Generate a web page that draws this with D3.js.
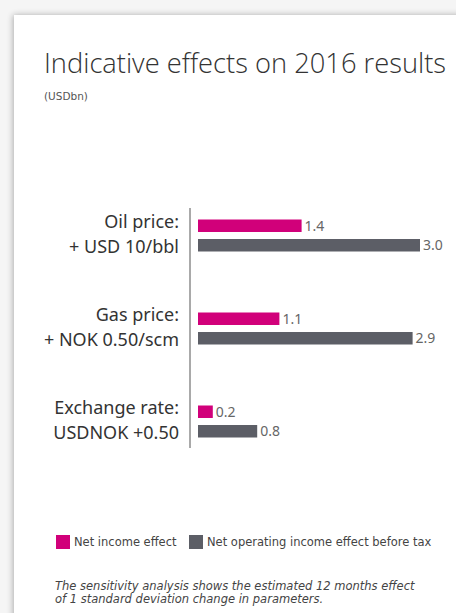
<!DOCTYPE html>
<html>
<head>
<meta charset="utf-8">
<script src="https://cdn.jsdelivr.net/npm/d3@7"></script>
<style>
  body { margin: 0; background: #f4f4f4; }
  #chart { width: 456px; height: 613px; }
</style>
</head>
<body>
<div id="chart"></div>
<script>
// ------------- Data ----------------- //
const categories = ['oil', 'gas', 'fx'];
const labelLine1 = ['Oil price:', 'Gas price:', 'Exchange rate:'];
const labelLine2 = ['+ USD 10/bbl', '+ NOK 0.50/scm', 'USDNOK +0.50'];
const seriesNames = ['Net income effect', 'Net operating income effect before tax'];
const netIncome = [1.4, 1.1, 0.2];
const netOperating = [3.0, 2.9, 0.8];

const colors = ['#d1007a', '#5c5e66'];

const width = 456, height = 613;

const svg = d3.select('#chart')
  .append('svg')
  .attr('width', width)
  .attr('height', height);

// card with soft shadow
const defs = svg.append('defs');
const f = defs.append('filter').attr('id', 'shadow').attr('x', '-5%').attr('y', '-5%').attr('width', '110%').attr('height', '110%');
f.append('feGaussianBlur').attr('in', 'SourceAlpha').attr('stdDeviation', 3);
f.append('feOffset').attr('dx', -1).attr('dy', 0).attr('result', 'b');
f.append('feComponentTransfer').append('feFuncA').attr('type', 'linear').attr('slope', 0.3);
const fm = f.append('feMerge');
fm.append('feMergeNode');
fm.append('feMergeNode').attr('in', 'SourceGraphic');

svg.append('rect')
  .attr('x', 0).attr('y', 0).attr('width', width).attr('height', height)
  .attr('fill', '#f5f5f5');
svg.append('rect')
  .attr('x', 14).attr('y', 15).attr('width', width + 20).attr('height', height + 20)
  .attr('fill', '#fff')
  .attr('filter', 'url(#shadow)');

// title
svg.append('text')
  .attr('x', 44).attr('y', 73)
  .attr('font-family', 'Open Sans, sans-serif')
  .attr('font-weight', 300)
  .attr('font-size', 28)
  .attr('fill', '#333')
  .attr('textLength', 402)
  .attr('lengthAdjust', 'spacingAndGlyphs')
  .text('Indicative effects on 2016 results');

svg.append('text')
  .attr('x', 44).attr('y', 100)
  .attr('font-family', 'DejaVu Sans, sans-serif')
  .attr('font-size', 10.5)
  .attr('fill', '#555')
  .text('(USDbn)');

// scales
const x0 = 198;
const x = d3.scaleLinear().domain([0, 3]).range([x0, 420]);

const y = d3.scaleBand().domain(categories).range([189, 468]).paddingInner(0);

const ySub = d3.scaleBand().domain([0, 1]).range([-16, 16]).paddingInner(0.36);

// axis line
svg.append('line')
  .attr('x1', 190).attr('x2', 190)
  .attr('y1', 208).attr('y2', 448)
  .attr('stroke', '#555').attr('stroke-width', 1);

// category labels
const groups = svg.selectAll('.grp')
  .data(categories)
  .join('g')
  .attr('class', 'grp')
  .attr('transform', (d) => 'translate(0,' + (y(d) + y.bandwidth() / 2) + ')');

groups.append('text')
  .attr('x', 179).attr('y', -8)
  .attr('text-anchor', 'end')
  .attr('font-family', 'Noto Sans, sans-serif')
  .attr('font-size', 18)
  .attr('fill', '#333')
  .text((d, i) => labelLine1[i]);

groups.append('text')
  .attr('x', 179).attr('y', 17)
  .attr('text-anchor', 'end')
  .attr('font-family', 'Noto Sans, sans-serif')
  .attr('font-size', 18)
  .attr('fill', '#333')
  .text((d, i) => labelLine2[i]);

// bars
[netIncome, netOperating].forEach(function (vals, s) {
  groups.append('rect')
    .attr('x', x(0))
    .attr('y', ySub(s))
    .attr('width', (d, i) => x(vals[i]) - x(0))
    .attr('height', ySub.bandwidth())
    .attr('fill', colors[s]);

  groups.append('text')
    .attr('x', (d, i) => x(vals[i]) + 3)
    .attr('y', ySub(s) + ySub.bandwidth() / 2 + 5)
    .attr('font-family', 'Noto Sans, sans-serif')
    .attr('font-size', 14)
    .attr('fill', '#666')
    .text((d, i) => vals[i].toFixed(1));
});

// legend
const legendX = [56, 189];
seriesNames.forEach(function (name, i) {
  svg.append('rect')
    .attr('x', legendX[i]).attr('y', 535)
    .attr('width', 14).attr('height', 14)
    .attr('fill', colors[i]);
  svg.append('text')
    .attr('x', legendX[i] + 18).attr('y', 546)
    .attr('font-family', 'DejaVu Sans, sans-serif')
    .attr('font-size', 11.5)
    .attr('fill', '#444')
    .text(name);
});

// footnote
const notes = ['The sensitivity analysis shows the estimated 12 months effect',
  'of 1 standard deviation change in parameters.'];
notes.forEach(function (t, i) {
  svg.append('text')
    .attr('x', 55).attr('y', 590 + i * 13)
    .attr('font-family', 'DejaVu Sans, sans-serif')
    .attr('font-style', 'italic')
    .attr('font-size', 11.5)
    .attr('fill', '#444')
    .text(t);
});
</script>
</body>
</html>
